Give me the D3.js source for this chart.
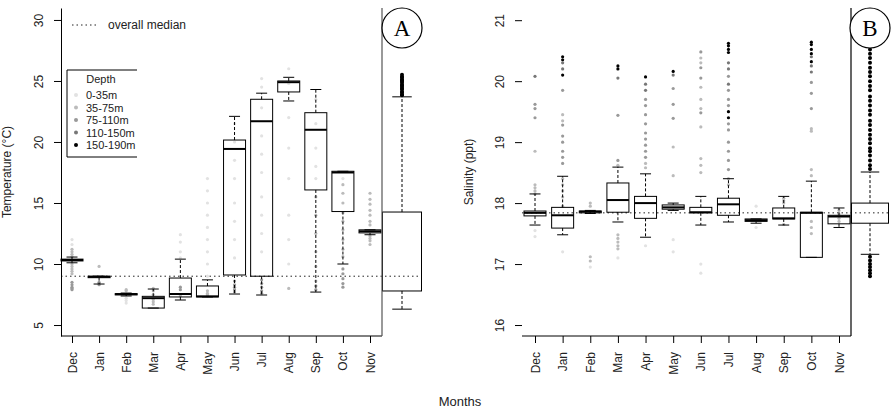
<!DOCTYPE html>
<html>
<head>
<meta charset="utf-8">
<script src="https://cdn.jsdelivr.net/npm/d3@7"></script>
<style>
  body { margin: 0; background: #fff; }
  svg { font-family: "Liberation Sans", Arial, sans-serif; }
</style>
</head>
<body>
<div id="chart"></div>
<script>
var months = ["Dec","Jan","Feb","Mar","Apr","May","Jun","Jul","Aug","Sep","Oct","Nov"]
var depthLabels = ["0-35m","35-75m","75-110m","110-150m","150-190m"]
var depthColors = ["#e2e2e2","#bbbbbb","#999999","#777777","#000000"]

// panel A: temperature box statistics per month
var tempLow  = [10.1, 8.36, 7.38, 6.39, 7.05, 7.3, 7.54, 7.46, 23.36, 7.7, 10.0, 12.4]
var tempQ1   = [10.25, 8.88, 7.47, 6.39, 7.3, 7.3, 9.1, 9.0, 24.1, 16.07, 14.3, 12.55]
var tempMed  = [10.33, 8.95, 7.53, 7.2, 7.54, 7.35, 19.43, 21.7, 24.9, 21.0, 17.5, 12.68]
var tempQ3   = [10.4, 9.0, 7.57, 7.35, 8.85, 8.2, 20.16, 23.5, 25.0, 22.4, 17.6, 12.8]
var tempHigh = [10.57, 9.0, 7.62, 7.95, 10.4, 8.7, 22.1, 24.0, 25.3, 24.3, 17.6, 12.8]
var tempAll  = [6.3, 7.79, 9.0, 14.26, 23.7]
var tempMedianAll = 9.0
var tempAllOut = [23.82, 23.9, 24.05, 24.12, 24.3, 24.38, 24.5, 24.62, 24.7, 24.85, 24.95, 25.05, 25.12, 25.28, 25.35, 25.5]

// [month, depth class, value]
var tempPts = [
  [0,0,12.0],[0,0,11.6],[0,1,11.2],[0,1,11.0],[0,1,10.8],[0,1,10.6],[0,1,10.0],[0,1,9.8],[0,1,9.6],[0,1,9.4],[0,1,9.2],[0,2,8.5],[0,2,8.3],[0,2,8.1],[0,2,8.0],[0,2,7.9],
  [1,1,9.8],[1,2,8.5],[1,2,8.4],[1,2,8.3],
  [2,1,7.9],[2,1,7.8],[2,0,7.2],[2,0,7.0],[2,0,6.8],
  [3,1,8.0],[3,1,7.8],[3,1,7.5],[3,1,7.1],[3,1,6.9],[3,1,6.7],
  [4,0,12.4],[4,0,11.8],[4,0,11.0],[4,0,10.5],[4,2,8.1],[4,2,7.9],[4,1,7.4],
  [5,0,17.0],[5,0,16.0],[5,0,15.0],[5,0,14.0],[5,0,13.0],[5,0,12.0],[5,0,11.0],[5,0,10.0],[5,0,9.0],[5,1,7.8],[5,1,7.6],[5,1,7.5],[5,1,7.4],
  [6,0,21.5],[6,0,20.0],[6,0,18.5],[6,0,17.0],[6,0,15.0],[6,0,13.5],[6,0,12.0],[6,0,10.5],[6,2,8.6],[6,2,8.3],[6,2,8.1],[6,2,7.9],[6,2,7.7],
  [7,0,25.2],[7,0,24.5],[7,0,22.8],[7,0,20.5],[7,0,19.0],[7,0,17.5],[7,0,15.5],[7,0,14.0],[7,0,12.5],[7,0,11.0],[7,2,8.7],[7,2,8.4],[7,2,8.1],[7,2,7.8],[7,2,7.6],
  [8,0,26.0],[8,0,24.8],[8,0,22.0],[8,0,19.5],[8,0,17.0],[8,0,14.0],[8,0,12.0],[8,0,10.0],[8,1,8.0],
  [9,0,23.5],[9,0,21.5],[9,0,19.5],[9,0,18.0],[9,0,17.0],[9,1,15.5],[9,1,14.0],[9,1,12.5],[9,1,11.0],[9,1,9.8],[9,1,8.6],[9,2,8.2],[9,2,7.9],
  [10,0,17.0],[10,1,16.5],[10,1,15.8],[10,1,15.0],[10,1,14.2],[10,1,13.5],[10,1,12.8],[10,1,12.0],[10,1,11.2],[10,1,10.6],[10,2,9.6],[10,2,9.2],[10,2,8.8],[10,2,8.4],[10,2,8.1],
  [11,1,15.8],[11,1,15.3],[11,1,14.9],[11,1,14.4],[11,1,14.0],[11,1,13.5],[11,1,13.2],[11,1,12.3],[11,1,12.1],[11,1,11.9],[11,1,11.6]
]

// panel B: salinity box statistics per month
var salLow  = [17.64, 17.48, 17.83, 17.69, 17.44, 17.88, 17.64, 17.69, 17.67, 17.64, 17.11, 17.6]
var salQ1   = [17.79, 17.59, 17.84, 17.85, 17.75, 17.9, 17.84, 17.8, 17.7, 17.74, 17.11, 17.66]
var salMed  = [17.84, 17.8, 17.86, 18.05, 18.0, 17.93, 17.85, 17.98, 17.72, 17.75, 17.84, 17.78]
var salQ3   = [17.87, 17.93, 17.87, 18.33, 18.11, 17.97, 17.93, 18.08, 17.74, 17.92, 17.85, 17.8]
var salHigh = [18.15, 18.44, 17.88, 18.59, 18.48, 18.0, 18.11, 18.4, 17.74, 18.11, 18.36, 17.92]
var salAll  = [17.16, 17.67, 17.84, 18.0, 18.51]
var salMedianAll = 17.84
var salAllOut = [18.56, 18.62, 18.7, 18.78, 18.85, 18.9, 18.98, 19.05, 19.12, 19.2, 19.28, 19.35, 19.45, 19.52, 19.6, 19.68, 19.75, 19.85, 19.92, 20.0, 20.08, 20.15, 20.22, 20.3, 20.38, 20.45, 20.52, 20.6, 20.64,
                 17.12, 17.06, 17.0, 16.95, 16.9, 16.85, 16.8]

var salPts = [
  [0,3,20.08],[0,2,19.62],[0,2,19.55],[0,2,19.4],[0,1,18.85],[0,1,18.3],[0,1,18.25],[0,1,18.2],[0,1,18.15],[0,0,17.55],[0,0,17.45],
  [1,4,20.4],[1,4,20.35],[1,3,20.3],[1,3,20.2],[1,4,20.1],[1,2,19.85],[1,1,19.45],[1,1,19.35],[1,2,19.28],[1,2,19.1],[1,2,19.0],[1,2,18.85],[1,2,18.75],[1,2,18.65],[1,1,18.4],[1,1,18.3],[1,1,18.2],[1,1,18.1],[1,1,17.95],[1,0,17.2],
  [2,1,18.0],[2,1,17.95],[2,1,17.12],[2,1,17.05],[2,0,16.95],
  [3,4,20.25],[3,4,20.2],[3,3,20.05],[3,2,19.44],[3,2,18.7],[3,1,18.62],[3,1,17.48],[3,1,17.42],[3,1,17.36],[3,1,17.3],[3,1,17.25],[3,0,17.1],
  [4,4,20.07],[4,3,19.95],[4,3,19.85],[4,2,19.7],[4,2,19.6],[4,2,19.45],[4,2,19.3],[4,2,19.15],[4,2,19.05],[4,2,18.95],[4,2,18.85],[4,2,18.75],[4,1,18.65],[4,1,18.58],[4,0,17.3],
  [5,4,20.16],[5,3,20.1],[5,2,19.88],[5,2,19.62],[5,2,19.39],[5,1,18.92],[5,1,18.45],[5,0,17.4],[5,0,17.2],
  [6,2,20.48],[6,1,20.38],[6,1,20.3],[6,2,20.22],[6,2,20.05],[6,1,19.9],[6,1,19.7],[6,1,19.55],[6,2,19.48],[6,1,19.25],[6,1,18.73],[6,1,18.62],[6,1,18.5],[6,0,17.0],[6,0,16.85],
  [7,4,20.62],[7,4,20.58],[7,4,20.52],[7,4,20.47],[7,3,20.3],[7,3,20.2],[7,2,20.08],[7,3,19.95],[7,2,19.85],[7,2,19.7],[7,2,19.6],[7,4,19.5],[7,4,19.4],[7,2,19.3],[7,2,19.2],[7,2,19.0],[7,2,18.85],[7,2,18.7],[7,2,18.55],[7,1,18.4],[7,1,18.3],
  [8,0,17.95],[8,0,17.6],
  [9,1,18.08],[9,1,18.04],[9,1,18.0],[9,1,17.65],
  [10,4,20.64],[10,4,20.6],[10,4,20.52],[10,4,20.45],[10,3,20.4],[10,4,20.32],[10,3,20.25],[10,3,20.15],[10,2,19.98],[10,2,19.8],[10,2,19.55],[10,1,19.22],[10,1,19.18],[10,1,18.55],[10,1,18.45],[10,1,17.7],[10,1,17.6],[10,1,17.5],
  [11,1,17.88],[11,1,17.82],[11,1,17.75],[11,1,17.7]
]

var W = 893, H = 410

var svg = d3.select("#chart").append("svg")
  .attr("width", W)
  .attr("height", H)

function drawPanel(cfg) {

  var x = d3.scalePoint().domain(months).range(cfg.xRange)
  var y = d3.scaleLinear().domain(cfg.yDomain).range([336, 8])
  var bw = 22
  var g = svg.append("g")

  var stats = months.map(function(m, i) {
    return {m: m, low: cfg.low[i], q1: cfg.q1[i], med: cfg.med[i], q3: cfg.q3[i], high: cfg.high[i]}
  })

  // overall median reference line
  g.append("line")
    .attr("x1", cfg.refX0).attr("x2", cfg.allX + cfg.allW / 2)
    .attr("y1", y(cfg.medianAll)).attr("y2", y(cfg.medianAll))
    .attr("stroke", "#222").attr("stroke-width", 1).attr("stroke-dasharray", "1.5,3")

  // sample points
  g.selectAll("circle.pt").data(cfg.pts).enter().append("circle")
    .attr("class", "pt")
    .attr("cx", function(d) { return x(months[d[0]]) })
    .attr("cy", function(d) { return y(d[2]) })
    .attr("r", 1.6)
    .attr("fill", function(d) { return depthColors[d[1]] })

  var box = g.selectAll("g.box").data(stats).enter().append("g").attr("class", "box")
    .attr("transform", function(d) { return "translate(" + x(d.m) + ",0)" })

  box.append("line").attr("y1", function(d) { return y(d.q3) }).attr("y2", function(d) { return y(d.high) })
    .attr("stroke", "#000").attr("stroke-dasharray", "3,2")
  box.append("line").attr("y1", function(d) { return y(d.q1) }).attr("y2", function(d) { return y(d.low) })
    .attr("stroke", "#000").attr("stroke-dasharray", "3,2")
  box.append("line").attr("x1", -5.5).attr("x2", 5.5)
    .attr("y1", function(d) { return y(d.high) }).attr("y2", function(d) { return y(d.high) })
    .attr("stroke", "#000")
  box.append("line").attr("x1", -5.5).attr("x2", 5.5)
    .attr("y1", function(d) { return y(d.low) }).attr("y2", function(d) { return y(d.low) })
    .attr("stroke", "#000")
  box.append("rect")
    .attr("x", -bw / 2).attr("width", bw)
    .attr("y", function(d) { return y(d.q3) })
    .attr("height", function(d) { return Math.max(0.5, y(d.q1) - y(d.q3)) })
    .attr("fill", "none").attr("stroke", "#000")
  box.append("line").attr("x1", -bw / 2).attr("x2", bw / 2)
    .attr("y1", function(d) { return y(d.med) }).attr("y2", function(d) { return y(d.med) })
    .attr("stroke", "#000").attr("stroke-width", 2)

  // overall box
  var a = cfg.all, cx = cfg.allX, hw = cfg.allW / 2
  g.append("line").attr("x1", cx).attr("x2", cx).attr("y1", y(a[3])).attr("y2", y(a[4]))
    .attr("stroke", "#000").attr("stroke-dasharray", "3,2")
  g.append("line").attr("x1", cx).attr("x2", cx).attr("y1", y(a[1])).attr("y2", y(a[0]))
    .attr("stroke", "#000").attr("stroke-dasharray", "3,2")
  g.append("line").attr("x1", cx - hw / 2).attr("x2", cx + hw / 2).attr("y1", y(a[4])).attr("y2", y(a[4])).attr("stroke", "#000")
  g.append("line").attr("x1", cx - hw / 2).attr("x2", cx + hw / 2).attr("y1", y(a[0])).attr("y2", y(a[0])).attr("stroke", "#000")
  g.append("rect").attr("x", cx - hw).attr("width", 2 * hw)
    .attr("y", y(a[3])).attr("height", y(a[1]) - y(a[3]))
    .attr("fill", "none").attr("stroke", "#000")
  g.selectAll("circle.out").data(cfg.allOut).enter().append("circle")
    .attr("class", "out")
    .attr("cx", cx).attr("cy", function(d) { return y(d) })
    .attr("r", 2).attr("fill", "#000")

  // frame pieces
  g.append("line").attr("x1", cfg.frameX0).attr("x2", cfg.frameX1).attr("y1", 336).attr("y2", 336).attr("stroke", "#000")
  g.append("line").attr("x1", cfg.frameX1).attr("x2", cfg.frameX1).attr("y1", 8).attr("y2", 336)
    .attr("stroke", cfg.rightColor).attr("stroke-width", 1.2)

  // y axis
  var ya = g.append("g").attr("transform", "translate(" + cfg.frameX0 + ",0)")
    .call(d3.axisLeft(y).tickValues(cfg.yTicks).tickFormat(d3.format("d")).tickSize(7).tickSizeOuter(0))
  if (!cfg.yLine) ya.select(".domain").remove()
  ya.select(".domain").attr("stroke", "#000")
  ya.selectAll("text")
    .attr("transform", "rotate(-90)")
    .attr("x", 0).attr("y", -18).attr("dy", 0)
    .attr("text-anchor", "middle")
    .attr("font-size", 12).attr("fill", "#222")
    .attr("font-family", "Liberation Sans, Arial, sans-serif")

  // x axis
  var xa = g.append("g").attr("transform", "translate(0,336)")
    .call(d3.axisBottom(x).tickSize(7).tickSizeOuter(0))
  xa.select(".domain").remove()
  xa.selectAll("text")
    .attr("transform", "rotate(-90)")
    .attr("x", -16).attr("y", 4).attr("dy", 0)
    .attr("text-anchor", "end")
    .attr("font-size", 12).attr("fill", "#222")
    .attr("font-family", "Liberation Sans, Arial, sans-serif")

  // y axis title
  g.append("text")
    .attr("transform", "translate(" + cfg.titleX + ",172) rotate(-90)")
    .attr("text-anchor", "middle").attr("font-size", 12).attr("fill", "#222")
    .text(cfg.title)

  // panel letter
  g.append("circle").attr("cx", cx).attr("cy", 28).attr("r", 20)
    .attr("fill", "#fff").attr("stroke", "#000").attr("stroke-width", 1.2)
  g.append("text").attr("x", cx).attr("y", 36).attr("text-anchor", "middle")
    .attr("font-family", "Liberation Serif, Times New Roman, serif").attr("font-size", 23)
    .text(cfg.letter)
}

drawPanel({
  xRange: [72, 370], yDomain: [4.1, 30.98], yTicks: [5, 10, 15, 20, 25, 30],
  low: tempLow, q1: tempQ1, med: tempMed, q3: tempQ3, high: tempHigh,
  all: tempAll, allOut: tempAllOut, medianAll: tempMedianAll, pts: tempPts,
  allX: 402, allW: 39, refX0: 61, frameX0: 61, frameX1: 382, yLine: true, rightColor: "#555",
  titleX: 11, title: "Temperature (°C)", letter: "A"
})

drawPanel({
  xRange: [535, 839], yDomain: [15.82, 21.2], yTicks: [16, 17, 18, 19, 20, 21],
  low: salLow, q1: salQ1, med: salMed, q3: salQ3, high: salHigh,
  all: salAll, allOut: salAllOut, medianAll: salMedianAll, pts: salPts,
  allX: 870, allW: 37, refX0: 522, frameX0: 522, frameX1: 851, yLine: false, rightColor: "#000",
  titleX: 473, title: "Salinity (ppt)", letter: "B"
})

// legend: overall median
var leg = svg.append("g")
leg.append("line").attr("x1", 72).attr("x2", 96).attr("y1", 25).attr("y2", 25)
  .attr("stroke", "#222").attr("stroke-dasharray", "1.5,3")
leg.append("text").attr("x", 108).attr("y", 29).attr("font-size", 12).attr("fill", "#222").text("overall median")

// legend: depth
var dl = svg.append("g")
dl.append("path").attr("d", "M137,70H67V157H137").attr("fill", "#fff").attr("stroke", "#000")
dl.append("text").attr("x", 101).attr("y", 83).attr("text-anchor", "middle").attr("font-size", 11).attr("fill", "#222").text("Depth")
var items = dl.selectAll("g.item").data(depthLabels).enter().append("g").attr("class", "item")
  .attr("transform", function(d, i) { return "translate(0," + (95 + i * 12.5) + ")" })
items.append("circle").attr("cx", 76).attr("cy", 0).attr("r", 2)
  .attr("fill", function(d, i) { return depthColors[i] })
items.append("text").attr("x", 86).attr("y", 4).attr("font-size", 11).attr("fill", "#222").text(function(d) { return d })

svg.append("text").attr("x", 460).attr("y", 406).attr("text-anchor", "middle")
  .attr("font-size", 13).attr("fill", "#222").text("Months")
</script>
</body>
</html>
